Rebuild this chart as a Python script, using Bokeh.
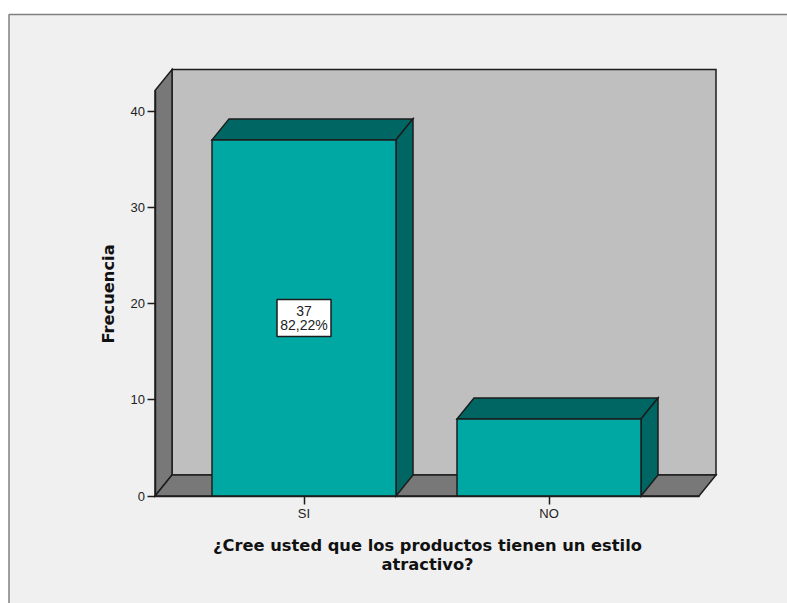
from bokeh.plotting import figure
from bokeh.models import Range1d, FixedTicker
from bokeh.core.properties import value
from bokeh.embed import file_html
from bokeh.resources import INLINE

categories = ["SI", "NO"]
counts = [37, 8]
percent_labels = ["82,22%", None]
y_ticks = [0, 10, 20, 30, 40]
x_title = ["¿Cree usted que los productos tienen un estilo", "atractivo?"]
y_title = "Frecuencia"

W, H = 787, 603
X_UNIT, Y_UNIT = 245.0, 9.625   # canvas pixels per category step / per count
X_ZERO, Y_ZERO = 303.5, 495.5   # canvas position of the first category and of count 0

PANEL, WALL, SIDE = "#f0f0f0", "#bfbfbf", "#787878"
BAR, BAR_DARK, EDGE = "#00a8a4", "#006663", "#1c1c1c"


def dx(px):
    return (px - X_ZERO) / X_UNIT


def dy(py):
    return (Y_ZERO - py) / Y_UNIT


p = figure(width=W, height=H, output_backend="svg", toolbar_location=None,
           x_range=Range1d(dx(0), dx(W)), y_range=Range1d(dy(H), dy(0)),
           min_border=0, background_fill_color="white", border_fill_color="white",
           outline_line_color=None)
p.grid.visible = False

# 3D box depth expressed in axis units
DEPTH_X, DEPTH_Y = 17 / X_UNIT, 21 / Y_UNIT
HALF = 92 / X_UNIT
LEFT, RIGHT = dx(154.5), dx(698.5)
TOP = dy(90)

# chart area and its frame line
p.quad(left=[dx(8.5)], right=[dx(W)], bottom=[dy(H)], top=[dy(14)],
       fill_color=PANEL, line_color=None)
p.line([dx(8.5), dx(8.5), dx(W)], [dy(H), dy(14), dy(14)], line_color="#808080", line_width=1.5)

# back wall, left wall and floor of the box
wall_style = dict(line_color=EDGE, line_width=1.5, line_join="miter")
p.patch([LEFT + DEPTH_X, RIGHT + DEPTH_X, RIGHT + DEPTH_X, LEFT + DEPTH_X],
        [DEPTH_Y, DEPTH_Y, TOP + DEPTH_Y, TOP + DEPTH_Y], fill_color=WALL, **wall_style)
p.patch([LEFT, LEFT + DEPTH_X, LEFT + DEPTH_X, LEFT],
        [0, DEPTH_Y, TOP + DEPTH_Y, TOP], fill_color=SIDE, **wall_style)
p.patch([LEFT, RIGHT, RIGHT + DEPTH_X, LEFT + DEPTH_X],
        [0, 0, DEPTH_Y, DEPTH_Y], fill_color=SIDE, **wall_style)

# bars: top face, side face, front face
for i, n in enumerate(counts):
    l, r = i - HALF, i + HALF
    p.patch([l, r, r + DEPTH_X, l + DEPTH_X], [n, n, n + DEPTH_Y, n + DEPTH_Y],
            fill_color=BAR_DARK, **wall_style)
    p.patch([r, r + DEPTH_X, r + DEPTH_X, r], [0, DEPTH_Y, n + DEPTH_Y, n],
            fill_color=BAR_DARK, **wall_style)
    p.quad(left=[l], right=[r], bottom=[0], top=[n], fill_color=BAR, **wall_style)

# value box in the middle of a bar
for i, (n, pct) in enumerate(zip(counts, percent_labels)):
    if pct is None:
        continue
    mid = n / 2
    p.quad(left=[i - 27 / X_UNIT], right=[i + 27 / X_UNIT],
           bottom=[mid - 18.5 / Y_UNIT], top=[mid + 18.5 / Y_UNIT],
           fill_color="white", line_color=EDGE, line_width=1.5)
    p.text(x=[i, i], y=[mid + 7 / Y_UNIT, mid - 7.5 / Y_UNIT], text=[str(n), pct],
           text_font=value("Liberation Sans"), text_font_size="14px",
           text_color="#222222", text_align="center", text_baseline="middle")

# axes sit on the box's front edges
p.yaxis.fixed_location = LEFT
p.yaxis.bounds = (0, TOP)
p.yaxis.ticker = FixedTicker(ticks=y_ticks)
p.xaxis.fixed_location = 0
p.xaxis.bounds = (LEFT, RIGHT)
p.xaxis.ticker = FixedTicker(ticks=list(range(len(categories))))
p.xaxis.major_label_overrides = {i: c for i, c in enumerate(categories)}
for ax in (p.xaxis, p.yaxis):
    ax.axis_line_color = EDGE
    ax.axis_line_width = 1.5
    ax.major_tick_line_color = EDGE
    ax.major_tick_line_width = 1.5
    ax.major_tick_out = 8
    ax.major_tick_in = 0
    ax.minor_tick_line_color = None
    ax.major_label_text_font = "Liberation Sans"
    ax.major_label_text_font_size = "13px"
    ax.major_label_text_color = "#222222"
    ax.major_label_standoff = 2

# axis titles
title_font = dict(text_font=value("DejaVu Sans"), text_font_style="bold",
                  text_font_size="16.3px", text_color="#111111",
                  text_align="center", text_baseline="middle")
p.text(x=[dx(427), dx(427)], y=[dy(545), dy(564)], text=x_title, **title_font)
p.text(x=[dx(108)], y=[dy(293.5)], text=[y_title], angle=1.5708, **title_font)

open("out.html", "w").write(file_html(p, INLINE))
